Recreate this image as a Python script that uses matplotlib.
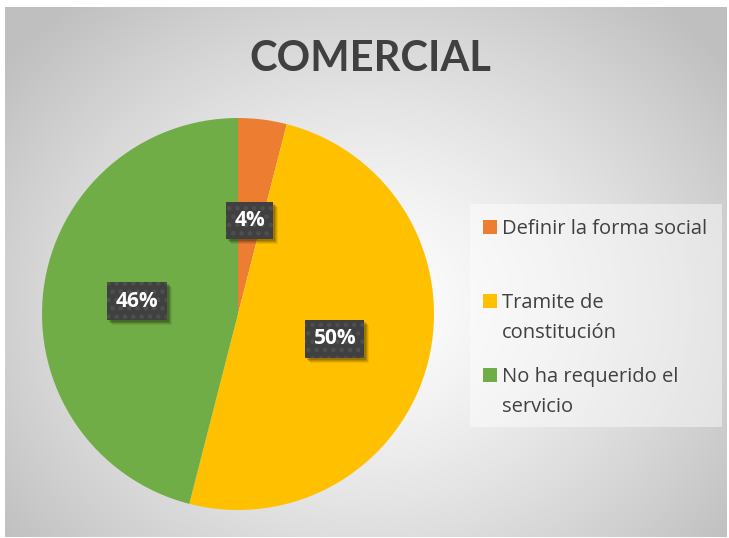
import matplotlib.pyplot as plt
import matplotlib.patches as mpatches
import matplotlib.transforms as mtransforms
import numpy as np

labels = ["Definir la forma social", "Tramite de\nconstitución", "No ha requerido el\nservicio"]
values = [4, 50, 46]
colors = ["#ED7D31", "#FFC000", "#70AD47"]
title = "COMERCIAL"

W, H = 729, 538
fig = plt.figure(figsize=(W / 100, H / 100), dpi=100)
fig.patch.set_facecolor("white")
plt.rcParams["hatch.linewidth"] = 2.0

# background with radial gradient
bg = fig.add_axes([0, 0, 1, 1])
bg.set_xlim(0, W)
bg.set_ylim(H, 0)
bg.axis("off")
yy, xx = np.mgrid[0:H, 0:W]
r = np.sqrt(((xx - 365) / 420.0) ** 2 + ((yy - 300) / 360.0) ** 2)
shade = np.clip(1.0 - 0.22 * r ** 1.3, 0.75, 1.0)
img = np.dstack([shade, shade, shade])
bg.imshow(img, extent=(5, W - 2, H - 1, 7), zorder=0)

bg.text(370, 59, title, ha="center", va="center", fontsize=30,
        fontweight="bold", color="#404040", family="Lato")

# pie
cx, cy, rad = 238, 314, 196
ax = fig.add_axes([(cx - rad) / W, 1 - (cy + rad) / H, 2 * rad / W, 2 * rad / H])
wedges, _ = ax.pie(values, colors=colors, startangle=90, counterclock=False,
                   radius=1.0, wedgeprops=dict(linewidth=0))
ax.set_xlim(-1, 1)
ax.set_ylim(-1, 1)
ax.set_aspect("auto")
ax.axis("off")

# data labels
label_r = [0.48, 0.51, 0.52]
start = 90.0
boxes = []
for v, lr in zip(values, label_r):
    mid = start - v * 3.6 / 2
    start -= v * 3.6
    x = lr * np.cos(np.radians(mid))
    y = lr * np.sin(np.radians(mid))
    t = ax.text(x, y, f"{v}%", ha="center", va="center", fontsize=15,
                fontweight="bold", color="white", family="Open Sans", zorder=4,
                bbox=dict(boxstyle="square,pad=0.4", fc="#404040",
                          ec="#4f4f4f", lw=0, hatch=".."))
    boxes.append(t)

# soft shadow behind the label boxes
fig.canvas.draw()
for t in boxes:
    bb = t.get_bbox_patch().get_window_extent()
    for off, a in [(5, 0.07), (4, 0.1), (3, 0.13), (2, 0.15)]:
        ax.add_patch(mpatches.Rectangle((bb.x0 + off, bb.y0 - off), bb.width, bb.height,
                                        transform=mtransforms.IdentityTransform(),
                                        fc="black", alpha=a, ec="none", zorder=2))

# legend
bg.add_patch(mpatches.Rectangle((470, 204), 252, 223, fc="white", alpha=0.45,
                                ec="none", zorder=2))
leg_y = [227, 301, 375]
for c, lab, y in zip(colors, labels, leg_y):
    bg.add_patch(mpatches.Rectangle((483, y - 7), 14, 14, fc=c, ec="none", zorder=3))
    bg.text(502, y - 8, lab, ha="left", va="top", fontsize=14.5,
            color="#404040", family="Open Sans", linespacing=1.7, zorder=3)

fig.savefig("out.png", dpi=100)
